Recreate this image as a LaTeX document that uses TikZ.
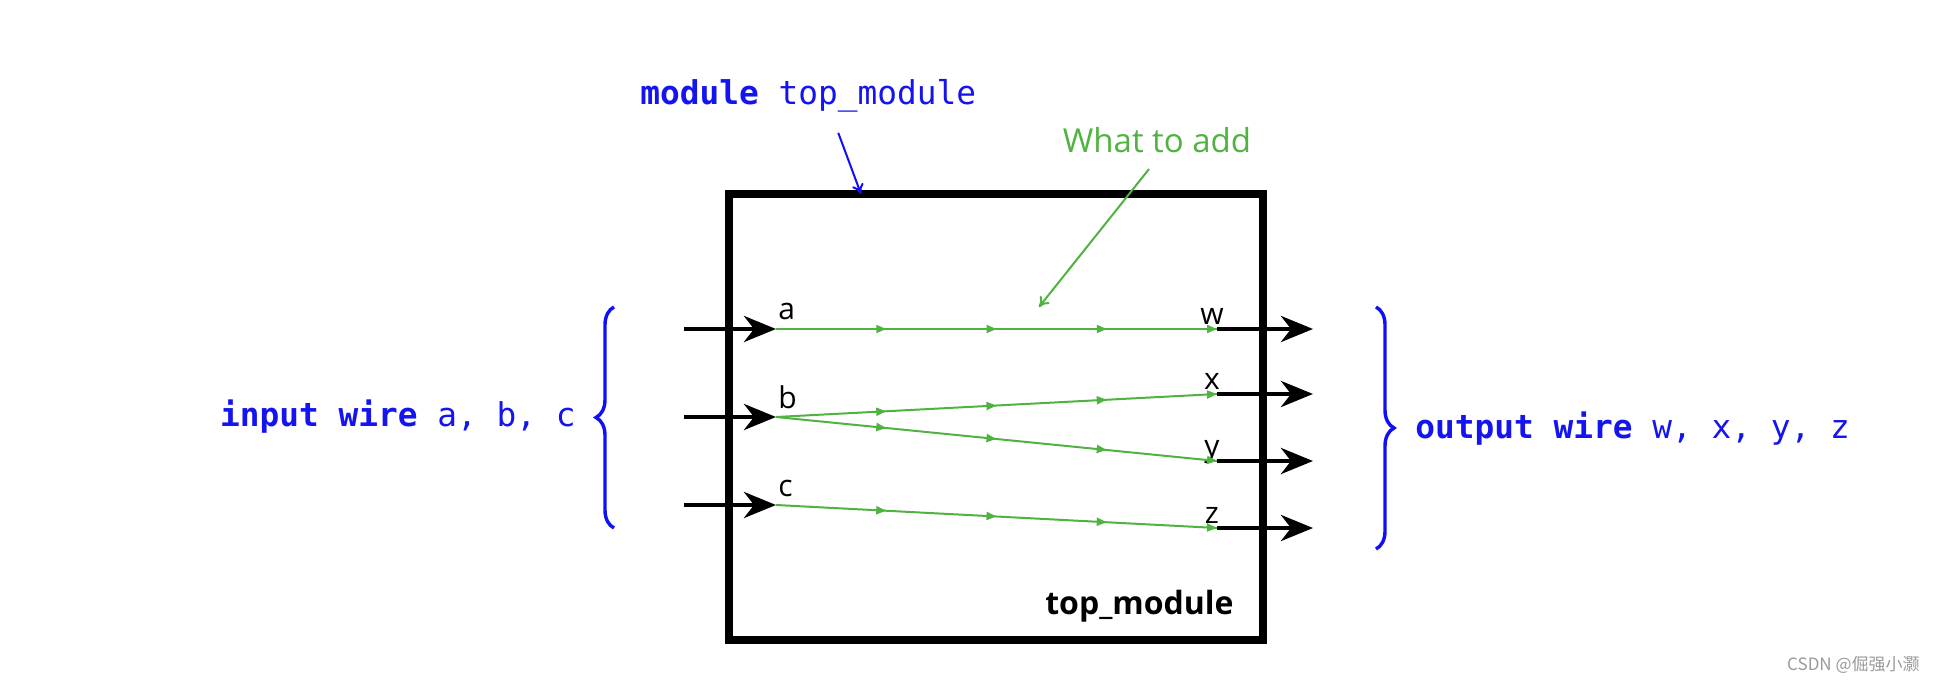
\documentclass[tikz,border=0pt]{standalone}
\usepackage{fontspec}
\setmainfont{Open Sans}
\setmonofont{DejaVu Sans Mono}
\newfontfamily\cjk{Noto Sans CJK SC}
\usetikzlibrary{arrows.meta,decorations.pathreplacing,decorations.markings,positioning}
\definecolor{wiregreen}{RGB}{80,178,64}
\definecolor{codeblue}{RGB}{20,20,240}
\definecolor{braceblue}{RGB}{15,15,250}
\tikzset{
	modbox/.style={draw, line width=4pt, minimum width=267pt, minimum height=223pt, inner sep=0pt},
	boxname/.style={font=\fontsize{16}{18}\selectfont\bfseries, inner sep=0pt},
	pin/.style={line width=2.2pt, -{Stealth[length=16pt,width=13pt,inset=5pt]}},
	pinname/.style={font=\fontsize{15}{17}\selectfont, inner sep=0pt},
	wire/.style={wiregreen, line width=1pt, postaction={decorate},
		decoration={markings,
			mark=at position 0.25 with {\arrow{Triangle[length=5pt,width=4pt]}},
			mark=at position 0.5 with {\arrow{Triangle[length=5pt,width=4pt]}},
			mark=at position 0.75 with {\arrow{Triangle[length=5pt,width=4pt]}},
			mark=at position 1 with {\arrow{Triangle[length=5pt,width=4pt]}}}},
	codetext/.style={font=\fontsize{16.4}{18}\selectfont\ttfamily, text=codeblue, inner sep=0pt},
	wirebrace/.style={braceblue, line width=1.7pt, decorate, decoration={brace, amplitude=9pt}},
	note/.style={font=\fontsize{16.5}{18}\selectfont, text=wiregreen, inner sep=0pt},
}
\begin{document}
\begin{tikzpicture}[x=0.5pt,y=-0.5pt]
	\useasboundingbox (0,0) rectangle (1938,684);
	% module box
	\node[modbox] (top) at (996,417) {};
	\node[boxname, anchor=east] (topname) at (1234,606) {top\_module};
	% input pins
	\foreach \n/\y in {a/329,b/417,c/505} {
		\coordinate (in\n) at (684,\y);
		\coordinate (p\n) at (776,\y);
		\draw[pin] (in\n) -- (p\n);
		\node[pinname, anchor=base west] (l\n) at ([shift={(1pt,4.5pt)}]p\n) {\n};
	}
	% output pins
	\foreach \n/\y in {w/329,x/394,y/461,z/528} {
		\coordinate (p\n) at (1217,\y);
		\coordinate (out\n) at (1313,\y);
		\draw[pin] (p\n) -- (out\n);
		\node[pinname, anchor=base] (l\n) at ([shift={(-2.5pt,2.5pt)}]p\n) {\n};
	}
	% wires to add
	\foreach \s/\t in {pa/pw,pb/px,pb/py,pc/pz} {
		\draw[wire] (\s) -- (\t);
	}
	% braces
	\draw[wirebrace] (614,528) -- (614,307);
	\draw[wirebrace] (1376,307) -- (1376,549);
	\node[codetext, anchor=east] (inwires) at (576,417) {\textbf{input wire} a, b, c};
	\node[codetext, anchor=west] (outwires) at (1415,429) {\textbf{output wire} w, x, y, z};
	% module name
	\node[codetext, anchor=west] (modname) at (640,96) {\textbf{module} top\_module};
	\coordinate (modpin) at (861,194);
	\draw[braceblue, line width=1pt, -{To[length=5pt,width=6pt]}] ([xshift=15pt,yshift=-10pt]modname.south) -- (modpin);
	% note
	\node[note] (addnote) at (1157,140) {What to add};
	\coordinate (notepin) at (1039,307);
	\draw[wiregreen, line width=1pt, -{To[length=5pt,width=6pt]}] ([xshift=-4pt,yshift=-8pt]addnote.south) -- (notepin);
	% watermark
	\node[anchor=east, inner sep=0pt, text=gray!80, font=\cjk\fontsize{8.5}{10}\selectfont] (mark) at (1920,665) {CSDN @倔强小灏};
\end{tikzpicture}
\end{document}
